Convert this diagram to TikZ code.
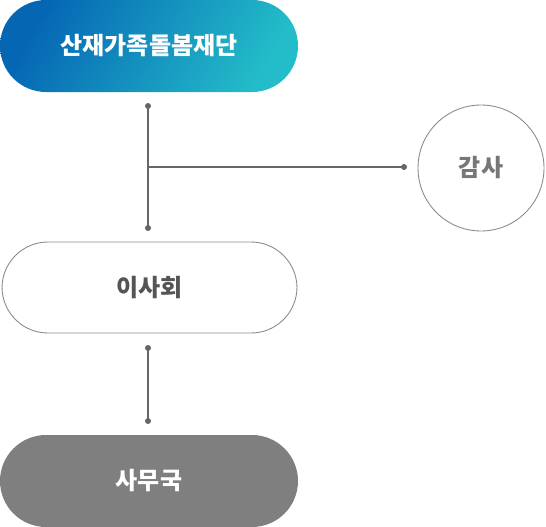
\documentclass[tikz,border=0pt]{standalone}
\usepackage{fontspec}
\newfontfamily\krfont{Noto Sans CJK KR}
\definecolor{blueA}{HTML}{0566B4}
\definecolor{tealB}{HTML}{23BCC9}
\definecolor{greyF}{HTML}{7F7F7F}
\definecolor{lineC}{HTML}{666666}
\definecolor{borderC}{HTML}{8C8C8C}
\definecolor{txtD}{HTML}{555555}
\definecolor{txtA}{HTML}{777777}
\tikzset{
  pill/.style={rectangle, rounded corners=46pt, minimum width=298pt, minimum height=92pt, inner sep=0pt,
    font=\krfont\bfseries\fontsize{24}{28}\selectfont},
  dotc/.style={fill=lineC},
  conn/.style={draw=lineC, line width=1.4pt},
}
\begin{document}
\begin{tikzpicture}[x=1pt,y=-1pt]
\useasboundingbox (0,0) rectangle (546,527);
\node[pill, left color=blueA, right color=tealB, shading angle=60, text=white] (top) at (149,46) {산재가족돌봄재단};
\node[pill, draw=borderC, line width=0.9pt, fill=white, text=txtD, minimum width=295pt, minimum height=91pt] (board) at (149.5,287.5) {이사회};
\node[pill, fill=greyF, text=white] (office) at (149,481) {사무국};
\node[circle, draw=borderC, line width=0.9pt, minimum size=126pt, inner sep=0pt, text=txtA,
  font=\krfont\bfseries\fontsize{24}{28}\selectfont] (audit) at (481,168) {감사};
\coordinate (d1) at (148,106);
\coordinate (d2) at (148,228);
\coordinate (j) at (148,167);
\coordinate (d3) at (404,167);
\coordinate (d4) at (148,348);
\coordinate (d5) at (148,421);
\draw[conn] (d1) -- (d2);
\draw[conn] (j) -- (d3);
\draw[conn] (d4) -- (d5);
\foreach \p in {d1,d2,d3,d4,d5} \fill[dotc] (\p) circle (3);
\end{tikzpicture}
\end{document}
